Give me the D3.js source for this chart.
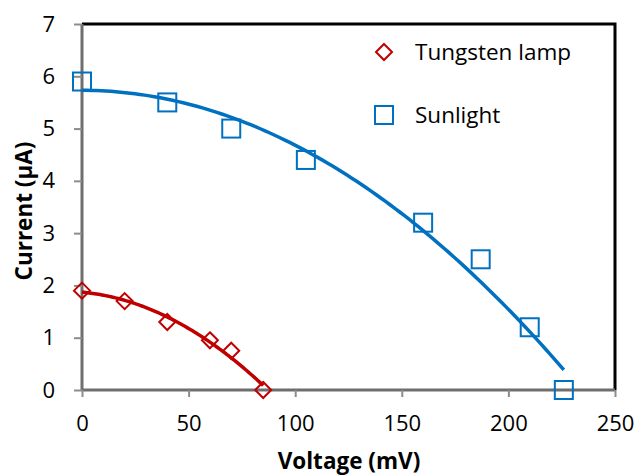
<!DOCTYPE html>
<html><head><meta charset="utf-8">
<script src="https://cdn.jsdelivr.net/npm/d3@7"></script>
<style>body{margin:0;background:#fff}svg{display:block}text{font-family:"Open Sans",sans-serif;fill:#000}</style>
</head><body>
<svg id="c" width="640" height="475"></svg>
<script>
const tungstenV = [0, 20, 40, 60, 70, 85];
const tungstenI = [1.9, 1.7, 1.3, 0.95, 0.75, 0];
const sunV = [0, 40, 70, 105, 160, 187, 210, 226];
const sunI = [5.9, 5.5, 5.0, 4.4, 3.2, 2.5, 1.2, 0];
const xTicks = [0, 50, 100, 150, 200, 250];
const yTicks = [0, 1, 2, 3, 4, 5, 6, 7];
const seriesNames = ["Tungsten lamp", "Sunlight"];
const colors = ["#C00000", "#0070C0"];

const svg = d3.select("#c");
const L = 82, R = 615, T = 24, B = 390;
const x = d3.scaleLinear().domain([0, 250]).range([L, R]);
const y = d3.scaleLinear().domain([0, 7]).range([B, T]);

function polyfit2(xs, ys) {
  const n = xs.length;
  let s = [0,0,0,0,0], t = [0,0,0];
  for (let i = 0; i < n; i++) {
    const xi = xs[i], yi = ys[i];
    for (let k = 0; k < 5; k++) s[k] += Math.pow(xi, k);
    for (let k = 0; k < 3; k++) t[k] += yi * Math.pow(xi, k);
  }
  const M = [[s[0], s[1], s[2], t[0]], [s[1], s[2], s[3], t[1]], [s[2], s[3], s[4], t[2]]];
  for (let i = 0; i < 3; i++) {
    for (let j = i + 1; j < 3; j++) {
      const f = M[j][i] / M[i][i];
      for (let k = i; k < 4; k++) M[j][k] -= f * M[i][k];
    }
  }
  const c = [0,0,0];
  for (let i = 2; i >= 0; i--) {
    let v = M[i][3];
    for (let k = i + 1; k < 3; k++) v -= M[i][k] * c[k];
    c[i] = v / M[i][i];
  }
  return c;
}

svg.append("path").attr("d", `M${L},${T}H${R}V${B}`).attr("fill", "none").attr("stroke", "#000").attr("stroke-width", 3);

const yAxis = svg.append("g").attr("transform", `translate(${L},0)`)
  .call(d3.axisLeft(y).tickValues(yTicks).tickSize(8).tickPadding(19).tickFormat(d3.format("d")));
const xAxis = svg.append("g").attr("transform", `translate(0,${B})`)
  .call(d3.axisBottom(x).tickValues(xTicks).tickSize(7).tickPadding(18).tickFormat(d3.format("d")));
[yAxis, xAxis].forEach(g => {
  g.select(".domain").attr("stroke", "#6e6e6e").attr("stroke-width", 3);
  g.selectAll(".tick line").attr("stroke", "#8c8c8c").attr("stroke-width", 2);
  g.selectAll("text").attr("font-size", 22).attr("font-family", "Open Sans").attr("fill", "#000");
});
xAxis.select(".domain").attr("d", `M${L},0H${R}`);
yAxis.select(".domain").attr("d", `M0,${B}V${T}`);

const series = [[tungstenV, tungstenI], [sunV, sunI]];
const line = d3.line().x(d => x(d[0])).y(d => y(d[1]));
series.forEach(([vs, is], si) => {
  const c = polyfit2(vs, is);
  const x0 = d3.min(vs), x1 = d3.max(vs);
  const pts = d3.range(0, 101).map(k => {
    const xv = x0 + (x1 - x0) * k / 100;
    return [xv, c[0] + c[1] * xv + c[2] * xv * xv];
  });
  svg.append("path").datum(pts).attr("d", line).attr("fill", "none")
    .attr("stroke", colors[si]).attr("stroke-width", 3.5);
});

function marker(g, si, cx, cy) {
  if (si === 0) {
    g.append("path").attr("d", `M${cx},${cy-8}L${cx+8},${cy}L${cx},${cy+8}L${cx-8},${cy}Z`)
      .attr("fill", "none").attr("stroke", colors[0]).attr("stroke-width", 2);
  } else {
    g.append("rect").attr("x", cx - 9).attr("y", cy - 9).attr("width", 18).attr("height", 18)
      .attr("fill", "none").attr("stroke", colors[1]).attr("stroke-width", 2);
  }
}
const mg = svg.append("g");
series.forEach(([vs, is], si) => {
  vs.forEach((v, i) => marker(mg, si, x(v), y(is[i])));
});

const lg = svg.append("g");
seriesNames.forEach((name, si) => {
  const cy = si === 0 ? 52 : 115;
  marker(lg, si, 384, cy);
  lg.append("text").attr("x", 415).attr("y", cy + 8).attr("font-size", 22.5).text(name);
});

svg.append("text").attr("x", 349).attr("y", 469).attr("text-anchor", "middle")
  .attr("font-size", 22.5).attr("font-weight", "bold").text("Voltage (mV)");
svg.append("text").attr("transform", "translate(32,211) rotate(-90)").attr("text-anchor", "middle")
  .attr("font-size", 22.5).attr("font-weight", "bold").text("Current (μA)");
</script>
</body></html>
